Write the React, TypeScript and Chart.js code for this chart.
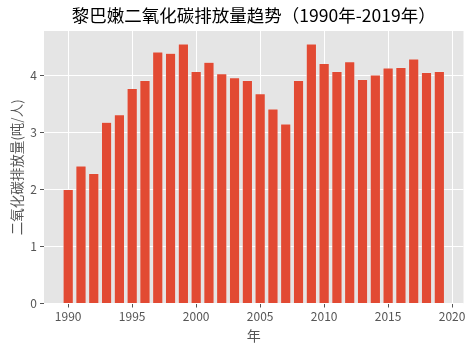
import React, { useEffect, useRef } from "react";
import { Chart, registerables } from "chart.js";

Chart.register(...registerables);

const years: number[] = [
  1990, 1991, 1992, 1993, 1994, 1995, 1996, 1997, 1998, 1999,
  2000, 2001, 2002, 2003, 2004, 2005, 2006, 2007, 2008, 2009,
  2010, 2011, 2012, 2013, 2014, 2015, 2016, 2017, 2018, 2019,
];
const emissions: number[] = [
  2.0, 2.41, 2.28, 3.18, 3.31, 3.77, 3.91, 4.41, 4.39, 4.55,
  4.07, 4.23, 4.03, 3.96, 3.91, 3.68, 3.41, 3.15, 3.91, 4.55,
  4.21, 4.07, 4.24, 3.93, 4.01, 4.13, 4.14, 4.29, 4.05, 4.07,
];
const xTicks: number[] = [1990, 1995, 2000, 2005, 2010, 2015, 2020];
const yTicks: number[] = [0, 1, 2, 3, 4];

const titleText = "黎巴嫩二氧化碳排放量趋势（1990年-2019年）";
const xLabel = "年";
const yLabel = "二氧化碳排放量(吨/人)";

const FONT = "'Noto Sans CJK SC', 'Noto Sans', sans-serif";

export default function App() {
  const ref = useRef<HTMLCanvasElement | null>(null);

  useEffect(() => {
    document.body.style.margin = "0";
    const canvas = ref.current;
    if (!canvas) return;

    const bgPlugin = {
      id: "bgPlugin",
      beforeDraw(chart: any) {
        const { ctx, chartArea } = chart;
        ctx.save();
        ctx.fillStyle = "#E5E5E5";
        ctx.fillRect(
          chartArea.left,
          chartArea.top,
          chartArea.right - chartArea.left,
          chartArea.bottom - chartArea.top
        );
        ctx.restore();
      },
    };

    const chart = new Chart(canvas, {
      type: "bar",
      data: {
        datasets: [
          {
            data: years.map((y, i) => ({ x: y, y: emissions[i] })),
            backgroundColor: "#E24A33",
            borderColor: "#EEEEEE",
            borderWidth: 0.5,
            barPercentage: 1,
            categoryPercentage: 0.8,
          },
        ],
      },
      options: {
        responsive: false,
        animation: false,
        layout: { padding: { left: 0, right: 10.5, top: 0, bottom: 0 } },
        plugins: {
          legend: { display: false },
          tooltip: { enabled: false },
          title: {
            display: true,
            fullSize: false,
            text: titleText,
            color: "#000000",
            font: { family: FONT, size: 17.5, weight: "normal" },
            padding: { top: 5, bottom: 5 },
          },
        },
        scales: {
          x: {
            type: "linear",
            min: 1988.11,
            max: 2020.89,
            offset: false,
            afterFit(scale: any) {
              scale.height = 47.5;
            },
            afterBuildTicks(scale: any) {
              scale.ticks = xTicks.map((v) => ({ value: v }));
            },
            ticks: {
              color: "#555555",
              font: { family: FONT, size: 12 },
              padding: 2,
              maxRotation: 0,
              autoSkip: false,
              callback: (v: any) => String(v),
            },
            grid: {
              offset: false,
              color: "#FFFFFF",
              lineWidth: 1,
              tickColor: "#555555",
              tickLength: 4,
              drawTicks: true,
            },
            border: { display: false },
            title: {
              display: true,
              text: xLabel,
              color: "#555555",
              font: { family: FONT, size: 14 },
              padding: { top: 0, bottom: 7 },
            },
          },
          y: {
            type: "linear",
            min: 0,
            max: 4.78,
            afterFit(scale: any) {
              scale.width = 44;
            },
            afterBuildTicks(scale: any) {
              scale.ticks = yTicks.map((v) => ({ value: v }));
            },
            ticks: {
              color: "#555555",
              font: { family: FONT, size: 12 },
              padding: 3,
              callback: (v: any) => String(v),
            },
            grid: {
              color: "#FFFFFF",
              lineWidth: 1,
              tickColor: "#555555",
              tickLength: 4,
            },
            border: { display: false },
            title: {
              display: true,
              text: yLabel,
              color: "#555555",
              font: { family: FONT, size: 13.5 },
              padding: { top: 9, bottom: 0 },
            },
          },
        },
      },
      plugins: [bgPlugin],
    });

    return () => {
      chart.destroy();
    };
  }, []);

  return (
    <div style={{ width: 474, height: 351, background: "#FFFFFF" }}>
      <canvas ref={ref} width={474} height={351} />
    </div>
  );
}
